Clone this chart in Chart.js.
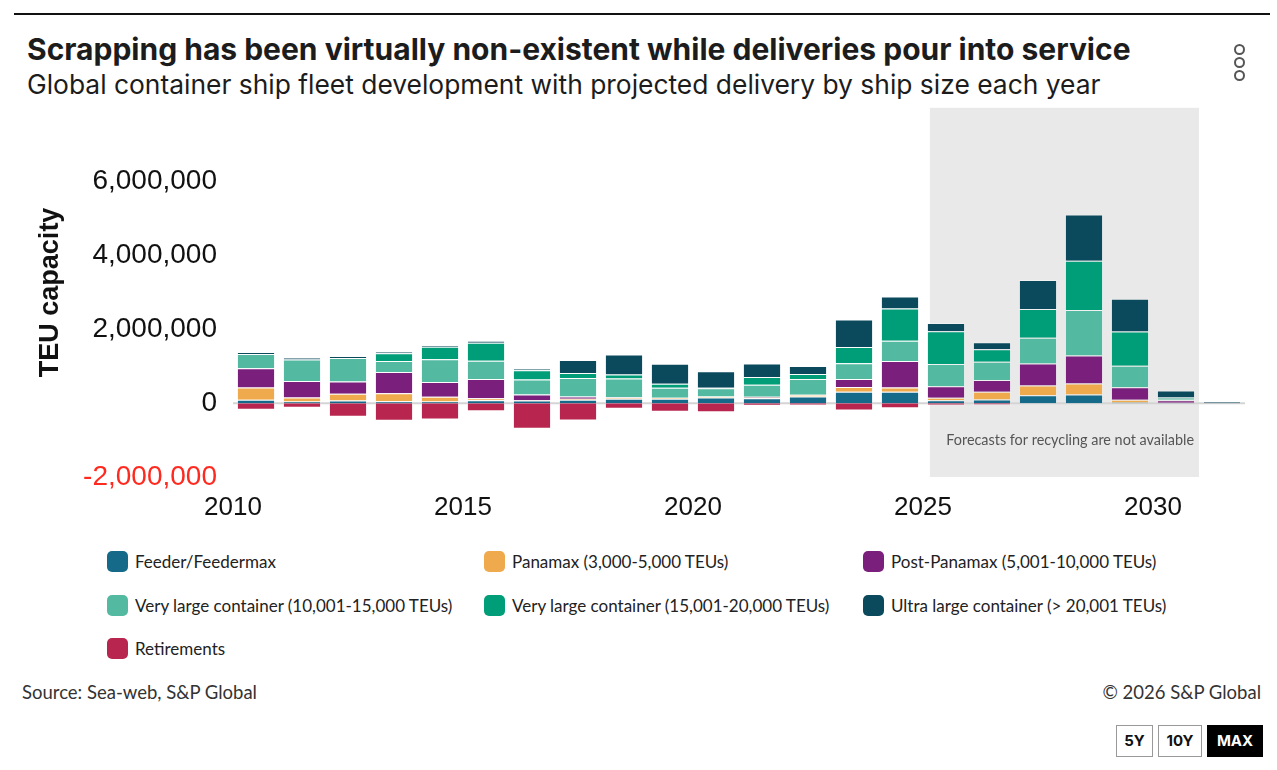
<!DOCTYPE html>
<html lang="en">
<head>
<meta charset="UTF-8">
<title>Container ship fleet development</title>
<script src="https://cdn.jsdelivr.net/npm/chart.js@4.4.1/dist/chart.umd.min.js"></script>
<style>
  body { margin: 0; width: 1277px; height: 770px; background: #fff; position: relative; overflow: hidden; font-family: Lato, sans-serif; color: #222; }
  #topline { position: absolute; left: 14px; width: 1256px; top: 13px; height: 2px; background: #111; }
  h1 { position: absolute; left: 27px; top: 31px; margin: 0; font: 700 30px/36px Inter, sans-serif; color: #1c1c1c; white-space: nowrap; }
  h2 { position: absolute; left: 27px; top: 68px; margin: 0; font: 400 26.4px/32px Inter, sans-serif; color: #1c1c1c; white-space: nowrap; }
  #menu { position: absolute; left: 1234px; top: 44px; }
  #menu span { display: block; width: 7px; height: 7px; border: 2px solid #555; border-radius: 50%; margin-bottom: 2px; }
  #wrap { position: absolute; left: 0; top: 75px; width: 1277px; height: 465px; }
  .leg { position: absolute; display: flex; align-items: center; font-size: 17px; color: #222; white-space: nowrap; }
  .leg i { display: inline-block; width: 21px; height: 21px; border-radius: 5px; margin-right: 7px; }
  #source { position: absolute; left: 22px; top: 681px; font-size: 18.5px; color: #333; }
  #copy { position: absolute; right: 16px; top: 681px; font-size: 18.5px; color: #333; }
  .btn { position: absolute; top: 725px; height: 30px; border: 1px solid #999; font: 700 15px/30px Inter, sans-serif; text-align: center; color: #111; }
</style>
</head>
<body>
<div id="topline"></div>
<h1>Scrapping has been virtually non-existent while deliveries pour into service</h1>
<h2>Global container ship fleet development with projected delivery by ship size each year</h2>
<div id="menu"><span></span><span></span><span></span></div>
<div id="wrap"><canvas id="chart"></canvas></div>
<div id="legend"></div>
<div id="source">Source: Sea-web, S&amp;P Global</div>
<div id="copy">© 2026 S&amp;P Global</div>
<div class="btn" style="left:1116px;width:35px;">5Y</div>
<div class="btn" style="left:1158px;width:42px;">10Y</div>
<div class="btn" style="left:1207px;width:54px;background:#000;color:#fff;border-color:#000;">MAX</div>
<script>
// values in TEU
const years = [2010, 2011, 2012, 2013, 2014, 2015, 2016, 2017, 2018, 2019, 2020,
               2021, 2022, 2023, 2024, 2025, 2026, 2027, 2028, 2029, 2030, 2031];
const feeder      = [90000, 45000, 72000, 54000, 45000, 81000, 72000, 90000, 117000, 117000, 153000,
                     135000, 180000, 306000, 306000, 81000, 99000, 216000, 234000, 20000, 10000, 0];
const panamax     = [333000, 108000, 180000, 216000, 126000, 54000, 10000, 27000, 36000, 27000, 27000,
                     20000, 45000, 135000, 117000, 63000, 207000, 261000, 297000, 72000, 0, 0];
const postPanamax = [524000, 450000, 333000, 577000, 405000, 522000, 153000, 63000, 10000, 5000, 0,
                     20000, 0, 216000, 721000, 315000, 324000, 595000, 757000, 342000, 72000, 0];
const vlc10to15   = [387000, 577000, 640000, 297000, 612000, 495000, 405000, 504000, 504000, 270000, 225000,
                     324000, 432000, 423000, 549000, 603000, 495000, 703000, 1234000, 577000, 36000, 0];
const vlc15to20   = [0, 0, 0, 207000, 342000, 486000, 252000, 135000, 108000, 108000, 10000,
                     207000, 135000, 441000, 874000, 883000, 333000, 775000, 1333000, 928000, 36000, 0];
const ulc         = [54000, 54000, 54000, 45000, 36000, 45000, 45000, 351000, 540000, 540000, 450000,
                     369000, 216000, 748000, 324000, 225000, 189000, 784000, 1252000, 892000, 189000, 40000];
const retirements = [-181000, -126000, -370000, -477000, -441000, -216000, -693000, -468000, -153000, -234000, -243000,
                     -72000, -63000, -198000, -135000, -63000, -54000, 0, 0, 0, 0, 0];

const seriesNames = ['Feeder/Feedermax', 'Panamax (3,000-5,000 TEUs)', 'Post-Panamax (5,001-10,000 TEUs)',
  'Very large container (10,001-15,000 TEUs)', 'Very large container (15,001-20,000 TEUs)',
  'Ultra large container (> 20,001 TEUs)', 'Retirements'];
const seriesValues = [feeder, panamax, postPanamax, vlc10to15, vlc15to20, ulc, retirements];
const seriesColors = ['#166a89', '#eeaa4d', '#7b1f7c', '#53b9a0', '#009e78', '#0b4a5c', '#b82650'];

const yTicks = [-2000000, 0, 2000000, 4000000, 6000000];
const forecastStart = 2025.15, forecastEnd = 2031;

// legend in three columns
const legendCols = [107, 484, 863], legendRows = [551, 595, 638];
const legend = document.getElementById('legend');
seriesNames.forEach((name, i) => {
  const d = document.createElement('div');
  d.className = 'leg';
  d.style.left = legendCols[i % 3] + 'px';
  d.style.top = legendRows[Math.floor(i / 3)] + 'px';
  d.innerHTML = '<i style="background:' + seriesColors[i] + '"></i>' + name.replace('>', '&gt;');
  legend.appendChild(d);
});

const background = {
  id: 'background',
  beforeDatasetsDraw(chart) {
    const { ctx, chartArea, scales } = chart;
    const x0 = scales.x.getPixelForValue(forecastStart);
    const x1 = scales.x.getPixelForValue(forecastEnd);
    ctx.save();
    ctx.fillStyle = '#e9e9e9';
    ctx.fillRect(x0, chartArea.top, x1 - x0, chartArea.bottom - chartArea.top);
    const y0 = scales.y.getPixelForValue(0);
    ctx.strokeStyle = '#d4d4d4';
    ctx.lineWidth = 2;
    ctx.beginPath();
    ctx.moveTo(chartArea.left, y0);
    ctx.lineTo(chartArea.right, y0);
    ctx.stroke();
    ctx.fillStyle = '#555';
    ctx.font = '14.4px Lato';
    ctx.textAlign = 'right';
    ctx.textBaseline = 'middle';
    ctx.fillText('Forecasts for recycling are not available', x1 - 5, scales.y.getPixelForValue(-1000000));
    ctx.restore();
  }
};

new Chart(document.getElementById('chart'), {
  type: 'bar',
  data: {
    datasets: seriesNames.map((name, i) => ({
      label: name,
      data: years.map((yr, j) => ({ x: yr + 0.5, y: seriesValues[i][j] })),
      backgroundColor: seriesColors[i],
      borderColor: 'rgba(255,255,255,0.35)',
      borderWidth: 1,
      barPercentage: 0.83,
      categoryPercentage: 1
    }))
  },
  options: {
    responsive: true,
    maintainAspectRatio: false,
    animation: false,
    layout: { padding: { top: 20, right: 32, left: 0, bottom: 0 } },
    plugins: { legend: { display: false }, tooltip: { enabled: false } },
    scales: {
      x: {
        type: 'linear',
        stacked: true,
        offset: false,
        min: 2010,
        max: 2032,
        grid: { display: false, drawTicks: false },
        border: { display: false },
        ticks: {
          stepSize: 5,
          includeBounds: false,
          padding: 15,
          color: '#111',
          font: { family: 'Liberation Sans', size: 26 },
          callback: v => String(v)
        },
        afterFit: s => { s.height = 63; }
      },
      y: {
        stacked: true,
        min: -2000000,
        max: 8000000,
        grid: { display: false, drawTicks: false },
        border: { display: false },
        afterBuildTicks: s => { s.ticks = yTicks.map(v => ({ value: v })); },
        ticks: {
          padding: 16,
          color: c => c.tick.value < 0 ? '#ff2a1f' : '#111',
          font: { family: 'Liberation Sans', size: 28 },
          callback: v => v.toLocaleString('en-US')
        },
        title: {
          display: true,
          text: 'TEU capacity',
          color: '#111',
          font: { family: 'Liberation Sans', size: 27, weight: 'bold' },
          padding: { top: 34, bottom: 0 }
        },
        afterFit: s => { s.width = 233; }
      }
    }
  },
  plugins: [background]
});
</script>
</body>
</html>
